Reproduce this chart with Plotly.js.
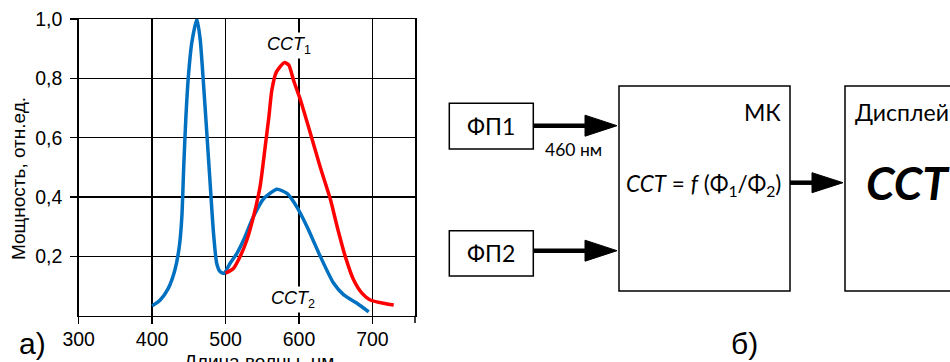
<!DOCTYPE html>
<html>
<head>
<meta charset="utf-8">
<script src="https://cdn.plot.ly/plotly-3.0.1.min.js"></script>
<style>html,body{margin:0;padding:0;background:#fff;}#chart{width:950px;height:362px;}</style>
</head>
<body>
<div id="chart"></div>
<script>
// ---- data ----
const blueWl = [400, 411, 422, 431, 437, 440.5, 443, 446, 449.5, 454, 461, 465.5, 470, 474.5, 479, 483.6, 488, 492.7, 498, 506, 515.5, 524.5, 538, 552, 570, 583.6, 597, 611, 629, 647, 661, 679, 695];
const blueVal = [0.033, 0.053, 0.092, 0.154, 0.233, 0.334, 0.50, 0.67, 0.81, 0.92, 1.0, 0.93, 0.78, 0.615, 0.446, 0.278, 0.176, 0.148, 0.143, 0.176, 0.21, 0.255, 0.334, 0.395, 0.426, 0.412, 0.367, 0.30, 0.20, 0.11, 0.07, 0.042, 0.013];
const redWl = [500, 511, 520, 529, 538, 547, 554, 559, 563, 569, 580, 586, 593, 602, 615.5, 629, 643, 652, 663, 674.5, 686, 697, 715, 729];
const redVal = [0.143, 0.16, 0.2, 0.255, 0.334, 0.435, 0.57, 0.67, 0.76, 0.82, 0.853, 0.845, 0.79, 0.727, 0.615, 0.50, 0.39, 0.30, 0.20, 0.12, 0.075, 0.053, 0.042, 0.036];
const xTicks = [300, 400, 500, 600, 700];
const yTicks = [0.2, 0.4, 0.6, 0.8, 1.0];
const yTickText = ['0,2', '0,4', '0,6', '0,8', '1,0'];

// ---- figure helpers (pixel -> paper, paper == whole figure since margins are 0) ----
const W = 950, H = 362;
const px = x => x / W;
const py = y => 1 - y / H;
const chartFont = 'Liberation Sans, Arial, sans-serif';
const diagFont = 'Lato, Open Sans, sans-serif';

function rect(x0, y0, x1, y1) {
  return {type: 'rect', xref: 'paper', yref: 'paper', x0: px(x0), x1: px(x1), y0: py(y1), y1: py(y0),
          line: {color: '#000', width: 1.5}, fillcolor: 'rgba(0,0,0,0)'};
}
function arrow(x0, x1, y, headBase, headHalf) {
  return [
    {type: 'line', xref: 'paper', yref: 'paper', x0: px(x0), x1: px(headBase + 2), y0: py(y), y1: py(y),
     line: {color: '#000', width: 4.5}},
    {type: 'path', xref: 'paper', yref: 'paper',
     path: `M ${px(headBase)},${py(y - headHalf)} L ${px(x1)},${py(y)} L ${px(headBase)},${py(y + headHalf)} Z`,
     fillcolor: '#000', line: {color: '#000', width: 1}}
  ];
}
function txt(text, x, y, size, xanchor, opts) {
  return Object.assign({xref: 'paper', yref: 'paper', x: px(x), y: py(y), text: text, showarrow: false,
    xanchor: xanchor || 'center', yanchor: 'middle', font: {family: diagFont, size: size, color: '#000'}}, opts || {});
}

const traces = [
  {x: blueWl, y: blueVal, type: 'scatter', mode: 'lines', line: {color: '#0070C0', width: 3.5, shape: 'spline', smoothing: 0.6}, cliponaxis: false, hoverinfo: 'skip'},
  {x: redWl, y: redVal, type: 'scatter', mode: 'lines', line: {color: '#FF0000', width: 3.5, shape: 'spline', smoothing: 0.6}, cliponaxis: false, hoverinfo: 'skip'}
];

const shapes = [
  rect(449.3, 103.3, 533.3, 149),
  rect(449.3, 230.7, 533.3, 276),
  rect(619, 86, 790, 291),
  rect(845, 86, 965, 291),
  ...arrow(533.3, 617, 125.7, 585, 10.5),
  ...arrow(533.3, 617, 250.7, 585, 10.5),
  ...arrow(790, 843, 182.7, 812, 10),
  // small extension of the right frame below the x axis
  {type: 'line', xref: 'paper', yref: 'paper', x0: px(415), x1: px(415), y0: py(315.7), y1: py(323), line: {color: '#000', width: 1.5}}
];

const annotations = [
  {xref: 'x', yref: 'y', x: 586, y: 0.912, text: '<i>CCT</i><sub>1</sub>', showarrow: false, bgcolor: '#fff',
   font: {family: chartFont, size: 18, color: '#000'}, xanchor: 'center', yanchor: 'middle'},
  {xref: 'x', yref: 'y', x: 592, y: 0.056, text: '<i>CCT</i><sub>2</sub>', showarrow: false, bgcolor: '#fff',
   font: {family: chartFont, size: 18, color: '#000'}, xanchor: 'center', yanchor: 'middle'},
  // axis titles
  {xref: 'paper', yref: 'paper', x: px(259), y: py(349), text: 'Длина волны, нм', showarrow: false,
   xanchor: 'center', yanchor: 'top', font: {family: chartFont, size: 19, color: '#000'}},
  {xref: 'paper', yref: 'paper', x: px(18), y: py(179), text: 'Мощность, отн.ед.', showarrow: false, textangle: -90,
   xanchor: 'center', yanchor: 'middle', font: {family: chartFont, size: 19, color: '#000'}},
  // panel labels
  txt('а)', 32, 343, 30, 'center', {font: {family: chartFont, size: 30, color: '#000'}}),
  txt('б)', 744, 343, 30, 'center', {font: {family: chartFont, size: 30, color: '#000'}}),
  // diagram texts
  txt('ФП1', 491, 126, 23),
  txt('ФП2', 491, 253, 23),
  txt('460 нм', 573, 149, 17.5),
  txt('МК', 783, 112.5, 23, 'right'),
  txt('<i>CCT</i> = <i>f</i> (Φ<sub>1</sub>/Φ<sub>2</sub>)', 703, 185, 22.5),
  txt('Дисплей', 853, 112.5, 23, 'left'),
  txt('<b><i>CCT</i></b>', 864, 182, 46, 'left')
];

const layout = {
  width: W, height: H,
  margin: {l: 0, r: 0, t: 0, b: 0},
  paper_bgcolor: '#fff', plot_bgcolor: '#fff',
  showlegend: false,
  separators: ',.',
  font: {family: chartFont, size: 19, color: '#000'},
  xaxis: {
    domain: [78.7 / W, 415 / W], range: [300, 758], tickvals: xTicks,
    showgrid: true, gridcolor: '#000', gridwidth: 1.5, zeroline: false,
    showline: true, mirror: true, linecolor: '#000', linewidth: 1.5,
    ticks: 'outside', ticklen: 7, tickwidth: 1.5, tickcolor: '#000', ticklabelstandoff: -2,
    tickfont: {family: chartFont, size: 19.5, color: '#000'}, fixedrange: true
  },
  yaxis: {
    domain: [1 - 315.7 / H, 1 - 19 / H], range: [0, 1.0], tickvals: yTicks, ticktext: yTickText,
    showgrid: true, gridcolor: '#000', gridwidth: 1.5, zeroline: false,
    showline: true, mirror: true, linecolor: '#000', linewidth: 1.5,
    ticks: 'outside', ticklen: 7, tickwidth: 1.5, tickcolor: '#000', ticklabelstandoff: 4,
    tickfont: {family: chartFont, size: 19.5, color: '#000'}, fixedrange: true
  },
  shapes: shapes,
  annotations: annotations
};

Plotly.newPlot('chart', traces, layout, {displayModeBar: false, staticPlot: true});
</script>
</body>
</html>
